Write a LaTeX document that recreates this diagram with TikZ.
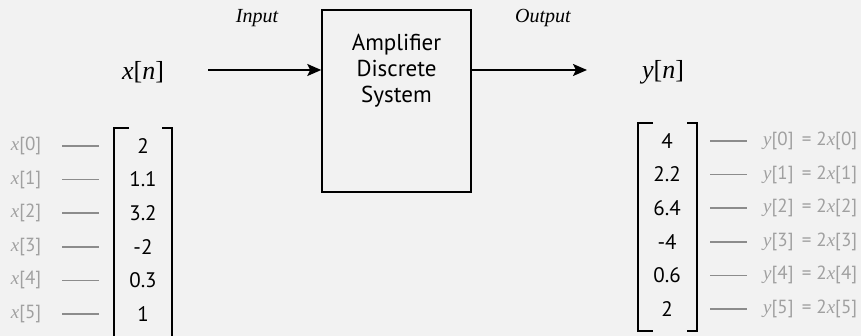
\documentclass[tikz,border=0pt]{standalone}
\usepackage{fontspec}
\setmainfont{Liberation Serif}
\setsansfont{PT Sans}
\usetikzlibrary{arrows.meta}
\definecolor{bggray}{HTML}{F2F2F2}
\definecolor{labgray}{HTML}{A0A0A0}
\definecolor{dashgray}{HTML}{8C8C8C}
\newcommand{\xs}{{\rmfamily\itshape x}}
\newcommand{\ys}{{\rmfamily\itshape y}}

\begin{document}
\begin{tikzpicture}[x=1pt,y=-1pt,
  val/.style={font=\sffamily\fontsize{21}{21}\selectfont},
  lab/.style={text=labgray,font=\sffamily\fontsize{19}{19}\selectfont},
  sig/.style={font=\fontsize{26}{26}\selectfont},
  tag/.style={font=\itshape\fontsize{20}{20}\selectfont},
  flow/.style={line width=2pt,-{Stealth[length=14pt,width=12pt,inset=3pt]}},
  dashln/.style={dashgray,line width=1.5pt},
  brk/.style={line width=2pt}]

  % page and background
  \fill[bggray] (0,0) rectangle (861,336);
  \useasboundingbox (0,0) rectangle (861,336);

  % the system block
  \node[draw,line width=1.5pt,minimum width=149,minimum height=182] (sys) at (396.5,101) {};
  \node[align=center,font=\sffamily\fontsize{23}{26}\selectfont] (sysl) at (396.5,71)
    {Amplifier\\Discrete\\System};

  % signals in and out
  \node[sig] (xn) at (143,72) {\textit{x}[\textit{n}]};
  \node[sig] (yn) at (663,72) {\textit{y}[\textit{n}]};
  \node[tag] (inl) at (257,18) {Input};
  \node[tag] (outl) at (543,18) {Output};
  \coordinate (inA) at (208,70);
  \coordinate (outA) at (587,70);
  \draw[flow] (inA) -- (inA -| sys.west);
  \draw[flow] (outA -| sys.east) -- (outA);

  % input vector x[n]
  \draw[brk] (129,128) -- (114,128) -- (114,338) -- (129,338);
  \draw[brk] (162,128) -- (172,128) -- (172,338) -- (162,338);
  \foreach \v [count=\i from 0] in {2,1.1,3.2,-2,0.3,1} {
    \node[val] (xv\i) at (143,{146+33.6*\i}) {\v};
    \node[lab] (xl\i) at (26,{146+33.6*\i}) {\xs[\i]};
    \draw[dashln] (62,{146+33.6*\i}) -- (99,{146+33.6*\i});
  }

  % output vector y[n]
  \draw[brk] (653,123) -- (638,123) -- (638,331) -- (653,331);
  \draw[brk] (687,123) -- (697,123) -- (697,331) -- (687,331);
  \foreach \v [count=\i from 0] in {4,2.2,6.4,-4,0.6,2} {
    \node[val] (yv\i) at (667,{141+33.6*\i}) {\v};
    \node[lab,anchor=west,inner sep=0pt] (yl\i) at (763,{141+33.6*\i}) {\ys[\i]\, = 2\xs[\i]};
    \draw[dashln] (710,{141+33.6*\i}) -- (747,{141+33.6*\i});
  }

\end{tikzpicture}
\end{document}
